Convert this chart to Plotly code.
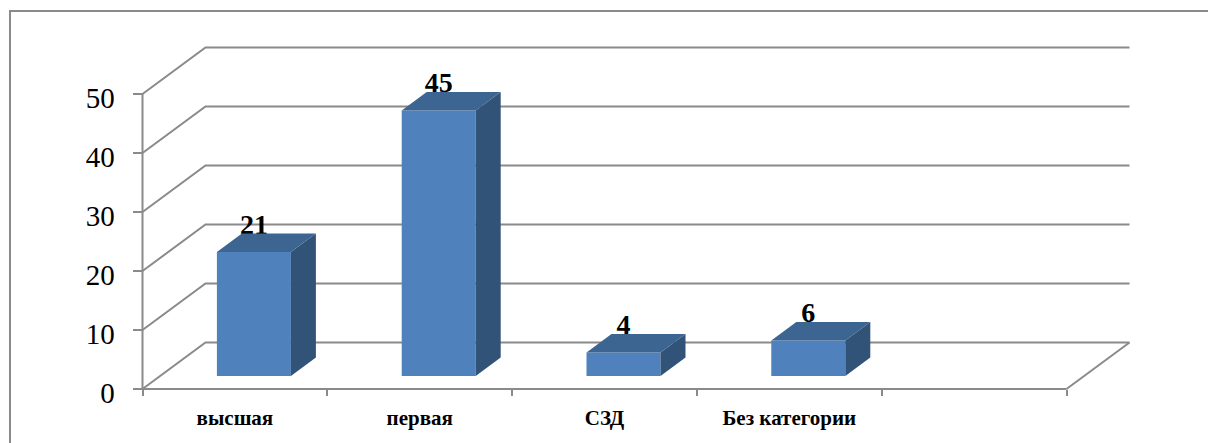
import plotly.graph_objects as go

categories = ["высшая", "первая", "СЗД", "Без категории", ""]
values = [21, 45, 4, 6]
y_ticks = [0, 10, 20, 30, 40, 50]

W, H = 1208, 443
X0, Y0 = 142.5, 389        # pixel position of the axis origin
PX_X, PX_Y = 184.8, 5.9    # pixels per category / per value unit
WALL_DX, WALL_DY = 63 / PX_X, 46.5 / PX_Y
BAR_W = 74 / PX_X
BAR_OFF_X, BAR_OFF_Y = 19 / PX_X, 13 / PX_Y
BAR_DX, BAR_DY = 25 / PX_X, 18.5 / PX_Y
LABEL_LIFT = 25.5 / PX_Y
x_range = [-X0 / PX_X, (W - X0) / PX_X]
y_range = [(Y0 - H) / PX_Y, Y0 / PX_Y]

GRID = "#8A8A8A"
FRONT, SIDE, TOP = "#4F81BD", "#325378", "#3D6591"
SERIF = "Liberation Serif, Times New Roman, serif"
n = len(categories)

fig = go.Figure()

def wall(xs, ys):
    fig.add_trace(go.Scatter(x=xs, y=ys, mode="lines", showlegend=False, hoverinfo="skip",
                             line=dict(color=GRID, width=2), xaxis="x", yaxis="y"))

# walls and floor
for t in y_ticks:
    wall([0, WALL_DX, n + WALL_DX], [t, t + WALL_DY, t + WALL_DY])
wall([n, n + WALL_DX], [0, WALL_DY])
wall([0, n], [0, 0])
wall([0, 0], [0, y_ticks[-1]])

# data labels sit behind the bars' top faces
centers = [i + 0.5 + BAR_OFF_X for i in range(len(values))]
fig.add_trace(go.Scatter(
    x=centers, y=[v + BAR_OFF_Y + LABEL_LIFT for v in values],
    text=[str(v) for v in values], mode="text", textposition="middle center",
    textfont=dict(family=SERIF, size=28, color="black", weight="bold"),
    showlegend=False, hoverinfo="skip", xaxis="x", yaxis="y"))

# front faces
fig.add_trace(go.Bar(
    x=centers, y=values, base=[BAR_OFF_Y] * len(values), width=BAR_W,
    marker=dict(color=FRONT, line=dict(width=0)), showlegend=False,
    xaxis="x2", yaxis="y2"))

# side and top faces derived from the values
for c, v in zip(centers, values):
    l, r = c - BAR_W / 2, c + BAR_W / 2
    b, t = BAR_OFF_Y, BAR_OFF_Y + v
    fig.add_trace(go.Scatter(
        x=[r, r + BAR_DX, r + BAR_DX, r, r], y=[b, b + BAR_DY, t + BAR_DY, t, b],
        mode="lines", fill="toself", fillcolor=SIDE, line=dict(width=0), showlegend=False,
        hoverinfo="skip", xaxis="x2", yaxis="y2"))
    fig.add_trace(go.Scatter(
        x=[l, r, r + BAR_DX, l + BAR_DX, l], y=[t, t, t + BAR_DY, t + BAR_DY, t],
        mode="lines", fill="toself", fillcolor=TOP, line=dict(width=0), showlegend=False,
        hoverinfo="skip", xaxis="x2", yaxis="y2"))

fig.update_layout(
    width=W, height=H, autosize=False,
    margin=dict(l=0, r=0, t=0, b=0),
    paper_bgcolor="white", plot_bgcolor="white", showlegend=False,
    xaxis=dict(
        range=x_range, domain=[0, 1], anchor="free", position=(H - Y0) / H, side="bottom",
        showgrid=False, zeroline=False, showline=False,
        tickmode="array", tickvals=[i + 0.5 for i in range(n)], ticktext=categories,
        ticks="", ticklen=0, ticklabelstandoff=14,
        tickfont=dict(family=SERIF, size=21, color="black", weight="bold"),
        minor=dict(tickmode="array", tickvals=list(range(n + 1)), ticks="outside",
                   ticklen=6, tickwidth=2, tickcolor=GRID, showgrid=False),
    ),
    yaxis=dict(
        range=y_range, domain=[0, 1], anchor="free", position=X0 / W, side="left",
        showgrid=False, zeroline=False, showline=False,
        tickmode="array", tickvals=y_ticks, ticks="outside", ticklen=10, tickwidth=2,
        tickcolor=GRID, ticklabelstandoff=12, ticklabelshift=4,
        tickfont=dict(family=SERIF, size=29, color="black"),
    ),
    xaxis2=dict(range=x_range, overlaying="x", visible=False, anchor="y2"),
    yaxis2=dict(range=y_range, overlaying="y", visible=False, anchor="x2"),
    shapes=[dict(type="path", xref="paper", yref="paper",
                 path=f"M {10/W} 0 L {10/W} {(H-11)/H} L 1 {(H-11)/H}",
                 line=dict(color=GRID, width=2))],
)
fig.write_html("out.html", config={"displayModeBar": False},
               post_script="document.body.style.margin='0';document.body.style.overflow='hidden';")
